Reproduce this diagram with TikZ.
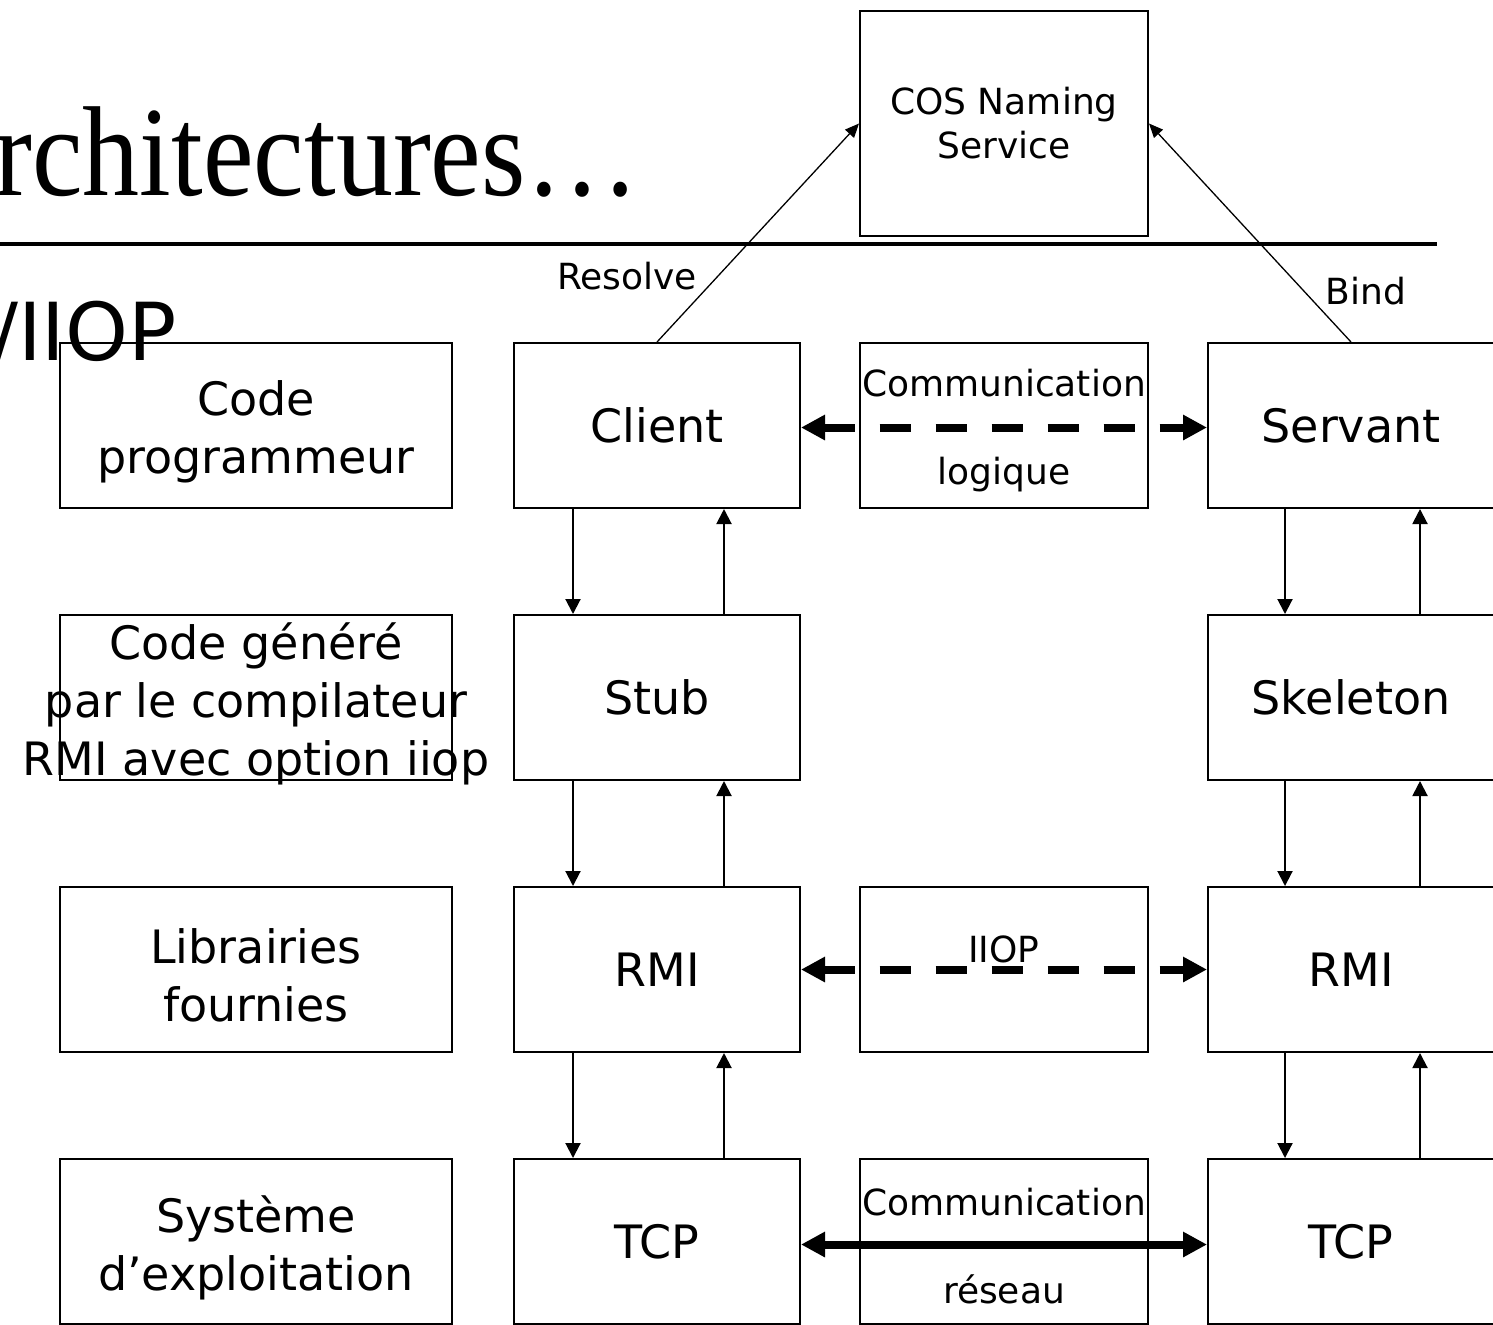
\documentclass[tikz,border=0pt]{standalone}
\usepackage{fontspec}
\setmainfont{DejaVu Sans}
\newfontfamily\titlefont{Liberation Serif}
\usepackage{graphicx}
\usetikzlibrary{arrows.meta, positioning}
\tikzset{layerbox/.style={draw=black, line width=1pt, minimum width=143pt, minimum height=82.5pt, inner sep=0pt, font=\fontsize{23pt}{29pt}\selectfont, align=center},
namebox/.style={layerbox, minimum width=196pt},
commbox/.style={layerbox, minimum width=144pt}}

\begin{document}
\begin{tikzpicture}[x=0.5pt, y=-0.5pt,
                nametext/.style={font=\fontsize{23pt}{29pt}\selectfont, align=center, inner sep=0pt, yshift=-3pt},
                commtext/.style={font=\fontsize{18pt}{22pt}\selectfont, align=center, inner sep=0pt, yshift=-2.5pt},
                smalltext/.style={font=\fontsize{18pt}{22pt}\selectfont, align=center, inner sep=0pt},
                layerarrow/.style={line width=1pt, -{Triangle[length=7.5pt, width=7.5pt]}},
                namearrow/.style={line width=0.65pt, -{Triangle[length=7pt, width=6pt]}},
                protoarrow/.style={line width=4pt, {Triangle[length=12pt, width=12pt]}-{Triangle[length=12pt, width=12pt]}}
            ]
                \useasboundingbox (0,0) rectangle (1493,1324);

                % Title
                \node[anchor=base west, inner sep=0pt, font=\titlefont\fontsize{64pt}{70pt}\selectfont] (title) at (-6,195) {\scalebox{0.89}[1]{rchitectures…}};
                \draw[line width=2pt] (0,244) -- (1437,244);
                \node[anchor=base east, inner sep=0pt, font=\fontsize{40pt}{46pt}\selectfont] (subtitle) at (177,360) {/IIOP};

                % Naming service
                \node[commbox, minimum height=112.5pt, font=\fontsize{18pt}{22pt}\selectfont] (cos) at (1004,123.5) {COS Naming\\Service};

                % Layer names
                \node[namebox, label={[nametext]center:{Code\\programmeur}}] (prog) at (256,425.5) {};
                \node[namebox, label={[nametext]center:{Code généré\\par le compilateur\\RMI avec option iiop}}] (gen) at (256,697.5) {};
                \node[namebox, label={[nametext]center:{Librairies\\fournies}}] (lib) at (256,969.5) {};
                \node[namebox, label={[nametext]center:{Système\\d’exploitation}}] (os) at (256,1241.5) {};

                % Client side
                \node[layerbox] (client) at (657,425.5) {Client};
                \node[layerbox] (stub) at (657,697.5) {Stub};
                \node[layerbox] (rmiC) at (657,969.5) {RMI};
                \node[layerbox] (tcpC) at (657,1241.5) {TCP};

                % Server side
                \node[layerbox] (servant) at (1351,425.5) {Servant};
                \node[layerbox] (skel) at (1351,697.5) {Skeleton};
                \node[layerbox] (rmiS) at (1351,969.5) {RMI};
                \node[layerbox] (tcpS) at (1351,1241.5) {TCP};

                % Communications
                \node[commbox, label={[commtext]center:{Communication\\[22pt]logique}}] (logic) at (1004,425.5) {};
                \node[commbox, label={[smalltext, yshift=10pt]center:IIOP}] (iiop) at (1004,969.5) {};
                \node[commbox, label={[commtext]center:{Communication\\[22pt]réseau}}] (net) at (1004,1241.5) {};

                \draw[protoarrow, dash pattern=on 15.5pt off 12.5pt] ([yshift=-1pt]client.east) -- ([yshift=-1pt]servant.west);
                \draw[protoarrow, dash pattern=on 15.5pt off 12.5pt] (rmiC.east) -- (rmiS.west);
                \draw[protoarrow] ([yshift=-1.5pt]tcpC.east) -- ([yshift=-1.5pt]tcpS.west);

                % Calls between layers
                \foreach \a/\b in {client/stub, stub/rmiC, rmiC/tcpC} {
\draw[layerarrow] ([xshift=-42pt]\a.south) -- ([xshift=-42pt]\b.north);
\draw[layerarrow] ([xshift=33.5pt]\b.north) -- ([xshift=33.5pt]\a.south);
}
                \foreach \a/\b in {servant/skel, skel/rmiS, rmiS/tcpS} {
\draw[layerarrow] ([xshift=-33pt]\a.south) -- ([xshift=-33pt]\b.north);
\draw[layerarrow] ([xshift=34.5pt]\b.north) -- ([xshift=34.5pt]\a.south);
}

                % Resolve and bind
                \draw[namearrow] (client.north) -- (cos.west);
                \draw[namearrow] (servant.north) -- (cos.east);
                \node[smalltext] (resolve) at (627,276) {Resolve};
                \node[smalltext] (bind) at (1366,291) {Bind};
            \end{tikzpicture}
\end{document}
